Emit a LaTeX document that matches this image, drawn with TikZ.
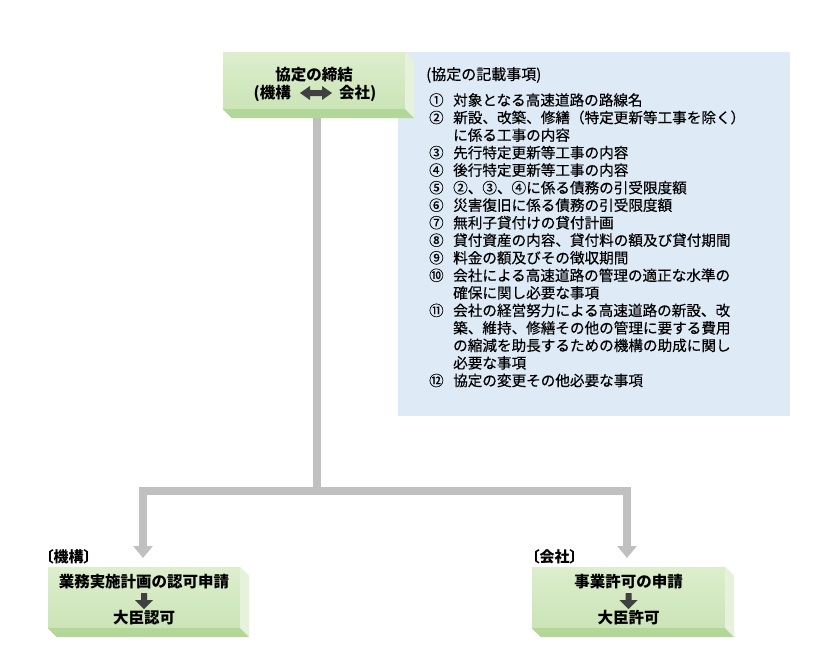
\documentclass[tikz,border=0pt]{standalone}
\usepackage{fontspec}
\setmainfont{Noto Sans CJK JP}
\newfontfamily\listfont{Noto Sans CJK JP}[FakeBold=0.35]
\newfontfamily\lblfont{Noto Sans CJK JP}[RawFeature=+palt]
\usetikzlibrary{arrows.meta}
\definecolor{faceT}{HTML}{DDEECD}
\definecolor{faceB}{HTML}{CBE4B7}
\definecolor{sideR}{HTML}{E6F2DC}
\definecolor{sideB}{HTML}{B3D699}
\definecolor{bluebg}{HTML}{DEEAF6}
\definecolor{conngray}{HTML}{C0C0C0}
\definecolor{darkarrow}{HTML}{404040}
\tikzset{
  face/.style={rectangle, inner sep=0pt, top color=faceT, bottom color=faceB, draw=none},
  boxtext/.style={font=\fontsize{15.5}{18}\bfseries\selectfont, inner sep=0pt},
  lbltext/.style={font=\lblfont\fontsize{15}{18}\bfseries\selectfont, inner sep=0pt, anchor=west},
  listnum/.style={font=\listfont\fontsize{14.4}{17}\selectfont, anchor=west, inner sep=0pt},
  listtext/.style={font=\listfont\fontsize{14.6}{17}\selectfont, anchor=west, inner sep=0pt},
  conn/.style={draw=conngray, line width=8pt, line join=miter},
  blockarrow/.style={fill=darkarrow, draw=none}
}
\newcommand{\bevelsides}[1]{%
  \fill[sideR] (#1.north east) -- ++(9,9) -- ([shift={(9,9)}]#1.south east) -- (#1.south east) -- cycle;
  \fill[sideB] (#1.south west) -- (#1.south east) -- ++(9,9) -- ([shift={(9,9)}]#1.south west) -- cycle;
}
\begin{document}
\begin{tikzpicture}[x=1pt,y=-1pt]
\useasboundingbox (0,0) rectangle (839,662);
\fill[white] (0,0) rectangle (839,662);

% blue info panel
\node[rectangle, fill=bluebg, inner sep=0pt, minimum width=392pt, minimum height=364pt] (info) at (594,234) {};

% connectors
\coordinate (stemtop) at (317,118);
\coordinate (junc) at (317,491);
\coordinate (lefttip) at (143,558);
\coordinate (righttip) at (627,558);
\draw[conn] (stemtop) -- (junc);
\draw[conn, {Triangle[width=19pt,length=12pt]}-{Triangle[width=19pt,length=12pt]}] (lefttip) |- (junc) -| (righttip);

% top box
\node[face, minimum width=182pt, minimum height=57pt] (kyotei) at (314,80.5) {};
\bevelsides{kyotei}
\node[boxtext] (kyoteititle) at (314,75) {協定の締結};
\node[boxtext, anchor=east] (kikou) at (291,93) {(機構};
\node[boxtext, anchor=west] (kaisha) at (339,93) {会社)};
\coordinate (dA) at (300,93);
\fill[blockarrow] (dA) -- ++(10,-7) -- ++(0,4) -- ++(12,0) -- ++(0,-4) -- ++(10,7) -- ++(-10,7) -- ++(0,-4) -- ++(-12,0) -- ++(0,4) -- cycle;

% info text
\node[listtext, font=\listfont\fontsize{15}{18}\selectfont] (infohead) at (426,75) {(協定の記載事項)};
\node[listnum] (n1) at (429,100) {①};
\node[listtext] (t1) at (453,100) {対象となる高速道路の路線名};
\node[listnum] (n2) at (429,117.5) {②};
\node[listtext] (t2) at (453,117.5) {新設、改築、修繕（特定更新等工事を除く）};
\node[listtext] (t2b) at (453,135.1) {に係る工事の内容};
\node[listnum] (n3) at (429,152.6) {③};
\node[listtext] (t3) at (453,152.6) {先行特定更新等工事の内容};
\node[listnum] (n4) at (429,170.1) {④};
\node[listtext] (t4) at (453,170.1) {後行特定更新等工事の内容};
\node[listnum] (n5) at (429,187.7) {⑤};
\node[listtext] (t5) at (453,187.7) {②、③、④に係る債務の引受限度額};
\node[listnum] (n6) at (429,205.2) {⑥};
\node[listtext] (t6) at (453,205.2) {災害復旧に係る債務の引受限度額};
\node[listnum] (n7) at (429,222.7) {⑦};
\node[listtext] (t7) at (453,222.7) {無利子貸付けの貸付計画};
\node[listnum] (n8) at (429,240.2) {⑧};
\node[listtext] (t8) at (453,240.2) {貸付資産の内容、貸付料の額及び貸付期間};
\node[listnum] (n9) at (429,257.8) {⑨};
\node[listtext] (t9) at (453,257.8) {料金の額及びその徴収期間};
\node[listnum] (n10) at (429,275.3) {⑩};
\node[listtext] (t10) at (453,275.3) {会社による高速道路の管理の適正な水準の};
\node[listtext] (t10b) at (453,292.8) {確保に関し必要な事項};
\node[listnum] (n11) at (429,310.4) {⑪};
\node[listtext] (t11) at (453,310.4) {会社の経営努力による高速道路の新設、改};
\node[listtext] (t11b) at (453,327.9) {築、維持、修繕その他の管理に要する費用};
\node[listtext] (t11c) at (453,345.4) {の縮減を助長するための機構の助成に関し};
\node[listtext] (t11d) at (453,362.9) {必要な事項};
\node[listnum] (n12) at (429,380.5) {⑫};
\node[listtext] (t12) at (453,380.5) {協定の変更その他必要な事項};

% bottom left box
\node[lbltext] (lblkikou) at (46,557) {〔機構〕};
\node[face, minimum width=192pt, minimum height=61pt] (kikoubox) at (144,597.5) {};
\bevelsides{kikoubox}
\node[boxtext] (gyomu) at (144,582) {業務実施計画の認可申請};
\node[boxtext] (daijin1) at (144,618) {大臣認可};
\coordinate (dL) at (144,593);
\fill[blockarrow] (dL) ++(-3,0) -- ++(6,0) -- ++(0,7) -- ++(6,0) -- ++(-9,9) -- ++(-9,-9) -- ++(6,0) -- cycle;

% bottom right box
\node[lbltext] (lblkaisha) at (532,557) {〔会社〕};
\node[face, minimum width=193pt, minimum height=61pt] (kaishabox) at (628.5,597.5) {};
\bevelsides{kaishabox}
\node[boxtext] (jigyo) at (628.5,582) {事業許可の申請};
\node[boxtext] (daijin2) at (628.5,618) {大臣許可};
\coordinate (dR) at (628.5,593);
\fill[blockarrow] (dR) ++(-3,0) -- ++(6,0) -- ++(0,7) -- ++(6,0) -- ++(-9,9) -- ++(-9,-9) -- ++(6,0) -- cycle;
\end{tikzpicture}
\end{document}
